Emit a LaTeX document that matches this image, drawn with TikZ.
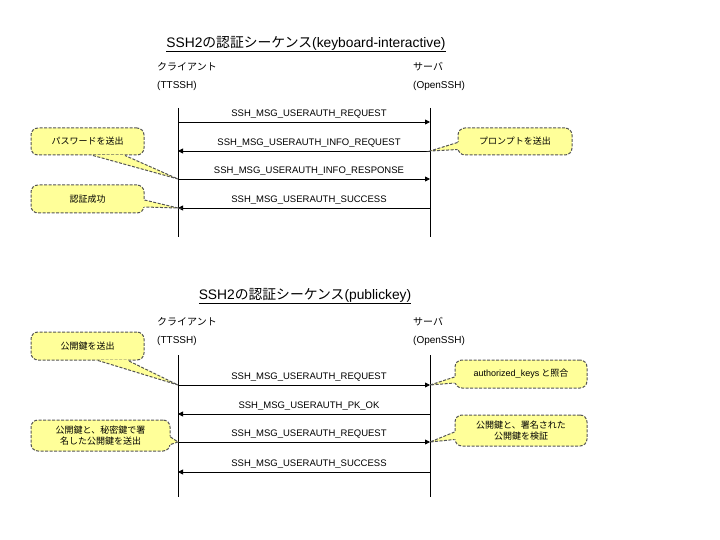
\documentclass[tikz,border=0pt]{standalone}
\usepackage{fontspec}
\setmainfont{Liberation Sans}
\newfontfamily\jp{Noto Sans CJK JP}
\usetikzlibrary{arrows.meta,calc}
\definecolor{noteyellow}{RGB}{255,255,153}
\definecolor{noteedge}{RGB}{85,85,85}

\tikzset{
  lifeline/.style={line width=0.8pt},
  msg/.style={line width=0.8pt,-{Triangle[length=5pt,width=5pt]}},
  msglabel/.style={font=\fontsize{9.5}{10}\selectfont, above=2pt, inner sep=1pt, xshift=5pt},
  note/.style={fill=noteyellow, draw=noteedge, line width=1pt, dash pattern=on 3pt off 1.5pt,
    rounded corners=7pt, font=\fontsize{9}{11}\selectfont\jp, align=center, inner sep=0pt},
  tailedge/.style={draw=noteedge, line width=1pt, dash pattern=on 3pt off 1.5pt},
  title/.style={font=\fontsize{13.8}{15}\selectfont, inner sep=0pt},
  party/.style={anchor=west, font=\fontsize{10}{12}\selectfont, inner sep=0pt},
}

% callout tail: base point, base point, tip
\newcommand\calloutTail[3]{%
  \fill[noteyellow] ($(#1)!-1.5pt!(#3)$) -- (#3) -- ($(#2)!-1.5pt!(#3)$) -- cycle;
  \draw[tailedge] (#1) -- (#3) -- (#2);}

\begin{document}
\begin{tikzpicture}[x=1pt,y=-1pt]
\useasboundingbox (0,0) rectangle (720,540);

% keyboard-interactive
\node[title] (t1) at (306,44) {\underline{SSH2{\jp の認証シーケンス}(keyboard-interactive)}};
\node[party] (cli1) at (157,67) {\jp クライアント};
\node[party] (cli1b) at (157,86) {(TTSSH)};
\node[party] (srv1) at (413,67) {\jp サーバ};
\node[party] (srv1b) at (413,86) {(OpenSSH)};

\coordinate (ucTop) at (178,108); \coordinate (ucBot) at (178,237);
\coordinate (usTop) at (430,108); \coordinate (usBot) at (430,237);
\draw[lifeline] (ucTop) -- (ucBot);
\draw[lifeline] (usTop) -- (usBot);

\foreach \y [count=\i] in {122,151,179,208}{
  \coordinate (uc\i) at (178,\y);
  \coordinate (us\i) at (430,\y);
}
\draw[msg] (uc1) -- node[msglabel] {SSH\_MSG\_USERAUTH\_REQUEST} (us1);
\draw[msg] (us2) -- node[msglabel] {SSH\_MSG\_USERAUTH\_INFO\_REQUEST} (uc2);
\draw[msg] (uc3) -- node[msglabel] {SSH\_MSG\_USERAUTH\_INFO\_RESPONSE} (us3);
\draw[msg] (us4) -- node[msglabel] {SSH\_MSG\_USERAUTH\_SUCCESS} (uc4);

\node[note, minimum width=113pt, minimum height=27pt] (pw) at (87.5,141.5) {パスワードを送出};
\node[note, minimum width=113pt, minimum height=28pt] (ok) at (87.5,199) {認証成功};
\node[note, minimum width=114pt, minimum height=27pt] (pr) at (515,141.5) {プロンプトを送出};
\calloutTail{[xshift=5.5pt]pw.south}{[xshift=37.5pt]pw.south}{uc3}
\calloutTail{[yshift=-1pt]ok.east}{[yshift=-8pt]ok.east}{uc4}
\calloutTail{[yshift=-1pt]pr.west}{[yshift=-8pt]pr.west}{us2}

% publickey
\node[title] (t2) at (305,296) {\underline{SSH2{\jp の認証シーケンス}(publickey)}};
\node[party] (cli2) at (157,322) {\jp クライアント};
\node[party] (cli2b) at (157,341) {(TTSSH)};
\node[party] (srv2) at (413,322) {\jp サーバ};
\node[party] (srv2b) at (413,341) {(OpenSSH)};

\coordinate (lcTop) at (178,355); \coordinate (lcBot) at (178,497);
\coordinate (lsTop) at (430,355); \coordinate (lsBot) at (430,497);
\draw[lifeline] (lcTop) -- (lcBot);
\draw[lifeline] (lsTop) -- (lsBot);

\foreach \y [count=\i] in {385,414,442,472}{
  \coordinate (lc\i) at (178,\y);
  \coordinate (ls\i) at (430,\y);
}
\draw[msg] (lc1) -- node[msglabel] {SSH\_MSG\_USERAUTH\_REQUEST} (ls1);
\draw[msg] (ls2) -- node[msglabel] {SSH\_MSG\_USERAUTH\_PK\_OK} (lc2);
\draw[msg] (lc3) -- node[msglabel] {SSH\_MSG\_USERAUTH\_REQUEST} (ls3);
\draw[msg] (ls4) -- node[msglabel] {SSH\_MSG\_USERAUTH\_SUCCESS} (lc4);

\node[note, minimum width=113pt, minimum height=28pt] (pk) at (87.5,346) {公開鍵を送出};
\node[note, minimum width=132pt, minimum height=28pt] (ak) at (521,374) {{\rmfamily authorized\_keys} と照合};
\node[note, minimum width=139pt, minimum height=31pt] (sg) at (100.5,435.5) {公開鍵と、秘密鍵で署\\名した公開鍵を送出};
\node[note, minimum width=132pt, minimum height=31pt] (vf) at (521,430.5) {公開鍵と、署名された\\公開鍵を検証};
\calloutTail{[xshift=10.5pt]pk.south}{[xshift=40.5pt]pk.south}{lc1}
\calloutTail{[yshift=-3pt]ak.west}{[yshift=-9pt]ak.west}{ls1}
\calloutTail{[yshift=-1.5pt]sg.east}{[yshift=-9pt]sg.east}{lc3}
\calloutTail{[yshift=-1.5pt]vf.west}{[yshift=-9pt]vf.west}{ls3}

\end{tikzpicture}
\end{document}
